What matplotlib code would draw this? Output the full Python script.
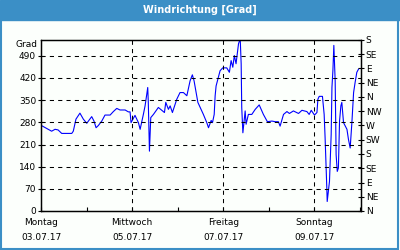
import matplotlib.pyplot as plt
from matplotlib.patches import Rectangle

# hours since Mo 03.07.17 00:00, wind direction in degrees
hours = [0.2, 5.6, 7.4, 9.0, 10.9, 16.2, 17.0, 18.4, 20.5, 22.3, 24.1, 26.7, 27.9, 29.0,
         30.2, 32.0, 33.7, 36.4, 38.1, 39.9, 41.6, 44.3, 46.0, 46.9, 47.4, 49.5, 51.3,
         52.2, 53.9, 54.8, 55.7, 56.2, 56.5, 57.1, 57.8, 59.2, 61.8, 65.0, 65.7, 67.1,
         68.0, 69.2, 71.5, 73.2, 75.0, 76.8, 78.5, 79.7, 80.6, 82.6, 85.5, 87.3, 88.2,
         89.6, 90.3, 91.2, 91.7, 92.2, 92.9, 94.3, 95.7, 97.8, 99.2, 100.1, 101.0, 101.8,
         102.7, 104.0, 104.9, 105.4, 105.7, 106.3, 107.5, 108.0, 109.2, 111.0, 112.8,
         114.9, 117.1, 119.2, 121.6, 123.3, 125.0, 125.9, 127.7, 129.5, 130.8, 132.9,
         135.6, 137.4, 140.0, 141.2, 142.3, 144.0, 145.3, 145.8, 146.5, 148.2, 149.1,
         149.6, 150.5, 150.7, 151.4, 151.9, 152.8, 153.2, 153.7, 154.2, 154.9, 155.4,
         156.0, 156.6, 157.2, 157.9, 158.4, 159.3, 161.1, 161.9, 162.8, 163.7, 164.6,
         165.4, 166.3, 167.2]
grad = [270, 252, 258, 256, 245, 245, 252, 290, 309, 290, 277, 298, 284, 263,
        270, 284, 303, 303, 314, 324, 319, 319, 313, 313, 279, 302, 279,
        258, 305, 332, 369, 390, 343, 189, 295, 305, 327, 311, 343, 321,
        332, 311, 353, 374, 374, 364, 411, 430, 411, 343, 305, 279, 263,
        286, 279, 305, 364, 395, 411, 443, 452, 452, 438, 475, 454, 491,
        465, 528, 544, 465, 327, 247, 316, 274, 305, 305, 321,
        335, 305, 282, 284, 282, 282, 268, 305, 314, 308, 316,
        308, 318, 314, 305, 318, 303, 311, 353, 362, 362, 305,
        231, 72, 30, 67, 93, 242, 390, 443, 523, 411, 178,
        125, 136, 284, 332, 343, 279, 258, 226, 199, 279, 374,
        406, 438, 448]

day_ticks = [0, 48, 96, 144]
day_labels = ["Montag\n03.07.17", "Mittwoch\n05.07.17", "Freitag\n07.07.17", "Sonntag\n09.07.17"]
grad_ticks = [0, 70, 140, 210, 280, 350, 420, 490]
dir_labels = ["N", "NE", "E", "SE", "S", "SW", "W", "NW", "N", "NE", "E", "SE", "S"]

blue_frame = "#3b8fc6"
plt.rcParams['font.family'] = ['DejaVu Sans']
plt.rcParams['font.size'] = 6.5

fig = plt.figure(figsize=(4, 2.5), dpi=100)
fig.patch.set_facecolor("#fcfffc")
fig.patches.append(Rectangle((0, 0.92), 1, 0.08, transform=fig.transFigure,
                             color=blue_frame, zorder=0))
fig.patches.append(Rectangle((0.002, 0.004), 0.994, 0.99, transform=fig.transFigure,
                             fill=False, edgecolor=blue_frame, lw=1.5, zorder=0))
fig.text(0.5, 0.96, "Windrichtung [Grad]", color="white", weight="bold",
         ha="center", va="center", fontsize=7)

ax = fig.add_axes([0.1025, 0.156, 0.8, 0.684])
ax.set_facecolor("#fcfffc")
ax.plot(hours, grad, color="#0000ff", lw=0.8)
ax.set_xlim(0, 168.5)
ax.set_ylim(0, 540)

ax.set_yticks(grad_ticks)
ax.set_xticks(day_ticks)
ax.set_xticklabels(day_labels, linespacing=1.9)
ax.set_xticks([24, 72, 120, 168], minor=True)
ax.tick_params(axis="x", which="both", direction="in", length=3, width=0.8, pad=5)
ax.tick_params(axis="y", direction="inout", length=5, width=0.8, pad=1)
for y in grad_ticks[1:]:
    ax.axhline(y, color="black", ls=(0, (4, 4)), lw=0.75)
for x in day_ticks[1:]:
    ax.axvline(x, color="black", ls=(0, (4, 4)), lw=0.75)
ax.text(-0.01, 0.975, "Grad", transform=ax.transAxes, ha="right", va="center")

ax2 = ax.twinx()
ax2.set_ylim(0, 540)
ax2.set_yticks(range(0, 541, 45))
ax2.set_yticklabels(dir_labels)
ax2.tick_params(axis="y", direction="inout", length=5, width=0.8, pad=1)

for a in (ax, ax2):
    for s in a.spines.values():
        s.set_linewidth(0.9)

fig.savefig("out.png", dpi=100, facecolor=fig.get_facecolor())
